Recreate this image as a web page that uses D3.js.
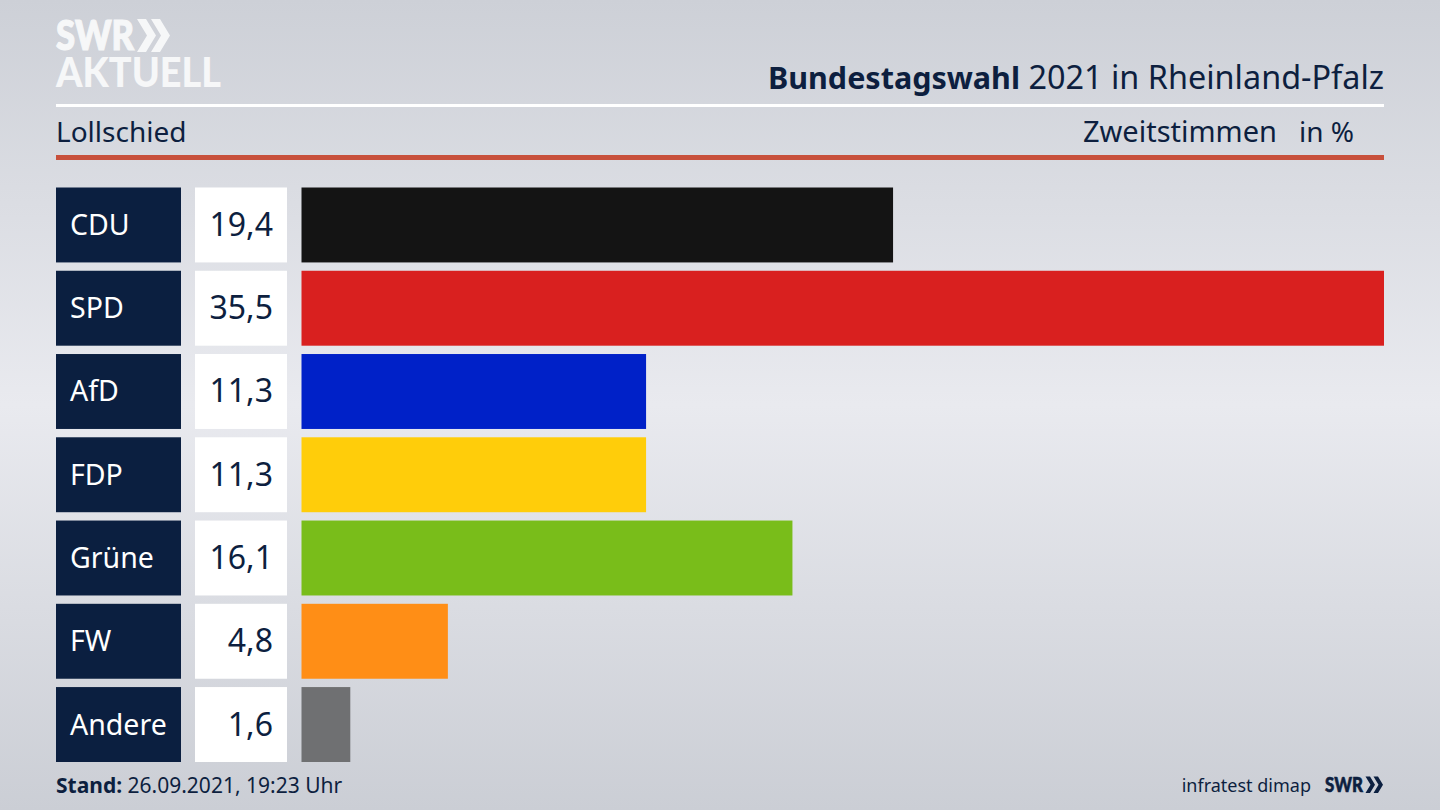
<!DOCTYPE html>
<html>
<head>
<meta charset="utf-8">
<style>
  html, body { margin: 0; padding: 0; background: #d5d8de; overflow: hidden; }
  svg { display: block; }
  text { font-family: "Noto Sans", sans-serif; fill: #0d1f3f; }
</style>
</head>
<body>
<script src="https://d3js.org/d3.v7.min.js"></script>
<script>
// values
var parties = ["CDU", "SPD", "AfD", "FDP", "Grüne", "FW", "Andere"];
var shares = [19.4, 35.5, 11.3, 11.3, 16.1, 4.8, 1.6];
var partyColors = ["#141414", "#d9201f", "#0021c8", "#ffcd0a", "#79bd1a", "#ff8e16", "#6f7072"];

var width = 1440, height = 810;
var navy = "#0b1f40";
var left = 56, right = 1384;

var svg = d3.select("body").append("svg")
    .attr("width", width)
    .attr("height", height);

// background: grey at top and bottom, lighter through the middle
var defs = svg.append("defs");
var bg = defs.append("linearGradient").attr("id", "bg")
    .attr("x1", 0).attr("y1", 0).attr("x2", 0).attr("y2", 1);
bg.append("stop").attr("offset", "0%").attr("stop-color", "#cdd0d7");
bg.append("stop").attr("offset", "50%").attr("stop-color", "#e9eaef");
bg.append("stop").attr("offset", "100%").attr("stop-color", "#cbced5");
svg.append("rect").attr("width", width).attr("height", height).attr("fill", "url(#bg)");

// logo top left, stroked a little because the squeezed glyphs come out too thin
svg.append("text").attr("x", 56).attr("y", 50)
    .attr("textLength", 78).attr("lengthAdjust", "spacingAndGlyphs")
    .style("font-family", "Lato").style("font-weight", 900).style("font-size", "41px")
    .style("fill", "#f6f7f8").style("stroke", "#f6f7f8").style("stroke-width", 1.2)
    .text("SWR");
// s scales the chevron, w is its stroke width
var chevron = function(x, y, s) {
  var w = 9 * s, run = 10 * s, half = 16.5 * s;
  return "M" + x + "," + y + "l" + w + ",0l" + run + "," + half + "l" + (-run) + "," + half +
    "l" + (-w) + ",0l" + run + "," + (-half) + "z";
};
svg.append("path").attr("d", chevron(137, 19, 1)).attr("fill", "#f6f7f8");
svg.append("path").attr("d", chevron(151, 19, 1)).attr("fill", "#f6f7f8");
svg.append("text").attr("x", 56).attr("y", 87)
    .attr("textLength", 165).attr("lengthAdjust", "spacingAndGlyphs")
    .style("font-family", "Lato").style("font-weight", 900).style("font-size", "41px")
    .style("fill", "#f6f7f8").text("AKTUELL");

// header
var title = svg.append("text").attr("x", right).attr("y", 89)
    .attr("text-anchor", "end");
title.append("tspan").style("font-weight", 700).style("font-size", "30.5px").text("Bundestagswahl");
title.append("tspan").style("font-size", "32.4px").text(" 2021 in Rheinland-Pfalz");

svg.append("rect").attr("x", left).attr("y", 104).attr("width", right - left).attr("height", 3).attr("fill", "#ffffff");

svg.append("text").attr("x", left).attr("y", 142).style("font-size", "28px").text("Lollschied");
svg.append("text").attr("x", 1277).attr("y", 142).attr("text-anchor", "end").style("font-size", "29px").text("Zweitstimmen");
svg.append("text").attr("x", 1354).attr("y", 142).attr("text-anchor", "end").style("font-size", "28px").text("in %");

svg.append("rect").attr("x", left).attr("y", 155).attr("width", right - left).attr("height", 5).attr("fill", "#c8503c");

// rows
var y = d3.scaleBand().domain(parties).range([187.5, 762]).paddingInner(0.1);
var x = d3.scaleLinear().domain([0, 35.5]).range([301.5, right]);
var fmt = function(v) { return d3.format(".1f")(v).replace(".", ","); };

var rows = svg.selectAll("g.row")
    .data(parties)
    .enter().append("g")
    .attr("class", "row")
    .attr("transform", function(d) { return "translate(0," + y(d) + ")"; });

rows.append("rect").attr("x", left).attr("width", 125).attr("height", y.bandwidth()).attr("fill", navy);
rows.append("text").attr("x", 70).attr("y", y.bandwidth() / 2 + 10)
    .style("font-size", "28.5px").style("fill", "#ffffff")
    .text(function(d) { return d; });

rows.append("rect").attr("x", 195).attr("width", 92).attr("height", y.bandwidth()).attr("fill", "#ffffff");
rows.append("text").attr("x", 273).attr("y", y.bandwidth() / 2 + 11)
    .attr("text-anchor", "end").style("font-size", "32px")
    .text(function(d, i) { return fmt(shares[i]); });

rows.append("rect").attr("x", x(0)).attr("height", y.bandwidth())
    .attr("width", function(d, i) { return x(shares[i]) - x(0); })
    .attr("fill", function(d, i) { return partyColors[i]; });

// footer
var stand = svg.append("text").attr("x", left).attr("y", 793).style("font-size", "21px");
stand.append("tspan").style("font-weight", 700).text("Stand:");
stand.append("tspan").text(" 26.09.2021, 19:23 Uhr");

svg.append("text").attr("x", 1311).attr("y", 792).attr("text-anchor", "end")
    .style("font-size", "18px").text("infratest dimap");
svg.append("text").attr("x", 1325).attr("y", 792)
    .attr("textLength", 38).attr("lengthAdjust", "spacingAndGlyphs")
    .style("font-family", "Lato").style("font-weight", 900).style("font-size", "21px")
    .style("stroke", "#0d1f3f").style("stroke-width", 0.6)
    .text("SWR");
svg.append("path").attr("d", chevron(1365.5, 776.5, 0.5)).attr("fill", navy);
svg.append("path").attr("d", chevron(1373.5, 776.5, 0.5)).attr("fill", navy);
</script>
</body>
</html>
